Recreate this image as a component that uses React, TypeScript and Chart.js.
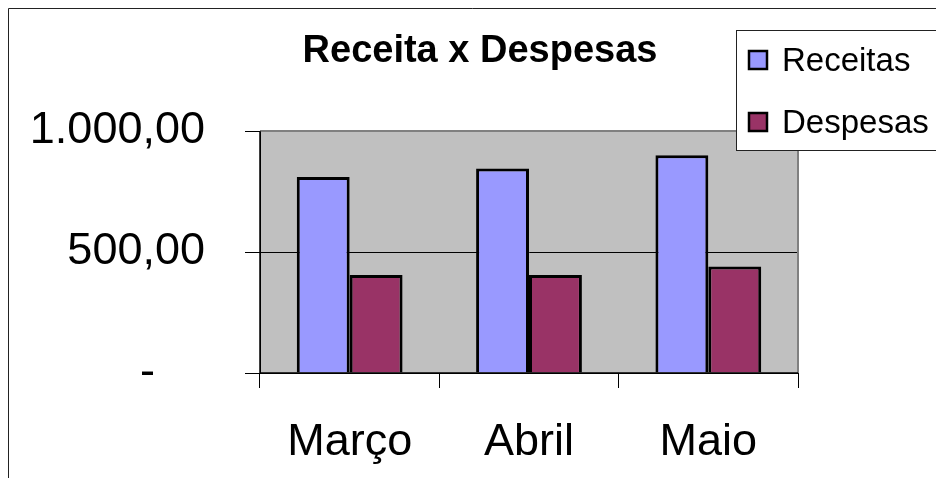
import React, { useEffect, useRef } from "react";
import { Chart, registerables } from "chart.js";

Chart.register(...registerables);

const categories = ["Março", "Abril", "Maio"];
const receitas = [810, 845, 900];
const despesas = [405, 405, 440];
const yTickValues = [0, 500, 1000];
const yTickLabels = ["-    ", "500,00", "1.000,00"];
const titleText = "Receita x Despesas";
const seriesNames = ["Receitas", "Despesas"];
const seriesColors = ["#9999FF", "#993366"];

const FONT = "'Liberation Sans', Arial, sans-serif";

const decorPlugin = {
  id: "decor",
  beforeDraw(chart: any) {
    const { ctx, chartArea: a } = chart;
    ctx.save();
    ctx.fillStyle = "#ffffff";
    ctx.fillRect(0, 0, chart.width, chart.height);
    ctx.fillStyle = "#C0C0C0";
    ctx.fillRect(a.left, a.top, a.right - a.left, a.bottom - a.top);
    ctx.restore();
  },
  afterDatasetsDraw(chart: any) {
    const { ctx, chartArea: a } = chart;
    ctx.save();
    ctx.strokeStyle = "#808080";
    ctx.lineWidth = 2;
    ctx.beginPath();
    ctx.moveTo(a.left, a.top);
    ctx.lineTo(a.right, a.top);
    ctx.lineTo(a.right, a.bottom);
    ctx.stroke();
    ctx.strokeStyle = "#000";
    ctx.lineWidth = 1.5;
    ctx.beginPath();
    ctx.moveTo(a.left, a.top);
    ctx.lineTo(a.left, a.bottom);
    ctx.lineTo(a.right, a.bottom);
    ctx.stroke();

    ctx.strokeStyle = "#222";
    ctx.lineWidth = 1;
    ctx.beginPath();
    ctx.moveTo(0.5, chart.height);
    ctx.lineTo(0.5, 0.5);
    ctx.lineTo(chart.width, 0.5);
    ctx.stroke();

    ctx.fillStyle = "#000";
    ctx.font = `bold 38px ${FONT}`;
    ctx.textAlign = "center";
    ctx.textBaseline = "alphabetic";
    ctx.fillText(titleText, 472, 54);

    const lx = 728.5, ly = 22.5;
    ctx.fillStyle = "#fff";
    ctx.fillRect(lx, ly, chart.width - lx + 5, 120);
    ctx.strokeStyle = "#222";
    ctx.lineWidth = 1;
    ctx.strokeRect(lx, ly, chart.width - lx + 5, 120);
    ctx.font = `33px ${FONT}`;
    ctx.textAlign = "left";
    const rows = [43, 105];
    seriesNames.forEach((name, i) => {
      const y = rows[i];
      ctx.fillStyle = seriesColors[i];
      ctx.fillRect(741, y, 18, 18);
      ctx.strokeStyle = "#000";
      ctx.lineWidth = 2.5;
      ctx.strokeRect(741, y, 18, 18);
      ctx.fillStyle = "#000";
      ctx.fillText(name, 774, y + 20);
    });
    ctx.restore();
  },
};

export default function App() {
  const ref = useRef<HTMLCanvasElement>(null);
  useEffect(() => {
    document.documentElement.style.overflow = "hidden";
    document.body.style.overflow = "hidden";
    const chart = new Chart(ref.current as HTMLCanvasElement, {
      type: "bar",
      data: {
        labels: categories,
        datasets: [
          {
            label: seriesNames[0],
            data: receitas,
            backgroundColor: seriesColors[0],
            borderColor: "#000",
            borderWidth: 3,
            categoryPercentage: 0.59,
            barPercentage: 1,
          },
          {
            label: seriesNames[1],
            data: despesas,
            backgroundColor: seriesColors[1],
            borderColor: "#000",
            borderWidth: 3,
            categoryPercentage: 0.59,
            barPercentage: 1,
          },
        ],
      },
      options: {
        responsive: false,
        animation: false,
        layout: { padding: { left: 0, right: 138, top: 123, bottom: 0 } },
        plugins: {
          legend: { display: false },
          title: { display: false },
          tooltip: { enabled: false },
        },
        scales: {
          x: {
            afterFit: (s: any) => {
              s.height = 105;
            },
            grid: {
              drawOnChartArea: false,
              drawTicks: true,
              tickLength: 15,
              color: "#000",
              offset: true,
            },
            border: { display: true, color: "#000", width: 1 },
            ticks: {
              color: "#000",
              padding: 28,
              font: { family: FONT, size: 45 },
              maxRotation: 0,
            },
          },
          y: {
            min: 0,
            max: 1000,
            afterFit: (s: any) => {
              s.width = 252;
            },
            afterBuildTicks: (s: any) => {
              s.ticks = yTickValues.map((v) => ({ value: v }));
            },
            grid: {
              color: "#000",
              lineWidth: 1,
              tickLength: 15,
              drawTicks: true,
            },
            border: { display: true, color: "#000", width: 1 },
            ticks: {
              color: "#000",
              padding: 40,
              font: { family: FONT, size: 45 },
              callback: (v: any) => {
                const i = yTickValues.indexOf(Number(v));
                return i >= 0 ? yTickLabels[i] : "";
              },
            },
          },
        },
      },
      plugins: [decorPlugin],
    });
    return () => chart.destroy();
  }, []);
  return (
    <div style={{ position: "absolute", left: 8, top: 8, width: 928, height: 470 }}>
      <canvas ref={ref} width={928} height={470} style={{ display: "block" }} />
    </div>
  );
}
